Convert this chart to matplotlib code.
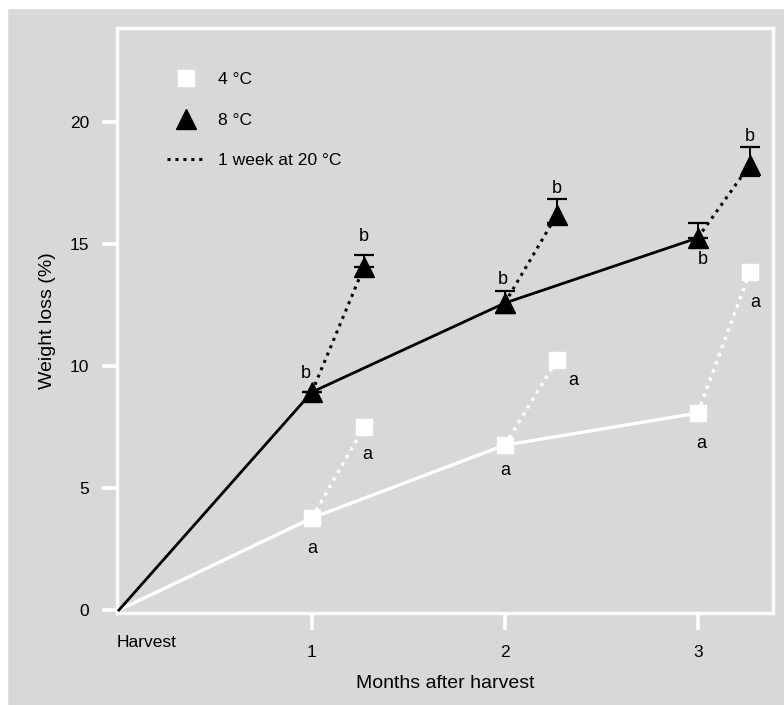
"""Weight loss during storage at 4 and 8 degC, plus 1 week at 20 degC."""
import matplotlib; matplotlib.use("Agg")
import matplotlib.pyplot as plt
from matplotlib.lines import Line2D
from matplotlib.patches import Rectangle

plt.rcParams["font.family"] = ["Liberation Sans", "DejaVu Sans"]

# storage months and the extra "1 week at 20 C" points
months = [0, 1, 2, 3]
months_wk = [1.27, 2.27, 3.27]

loss_4 = [0, 3.77, 6.76, 8.07]
loss_4_wk = [7.5, 10.25, 13.85]
let_4 = ["a", "a", "a"]
let_4_wk = ["a", "a", "a"]

loss_8 = [0, 8.93, 12.58, 15.25]
err_8_lo = [0, 0, 0.4, 0]
err_8_hi = [0, 0, 0.5, 0.6]
loss_8_wk = [14.06, 16.2, 18.24]
err_8_wk_lo = [0, 0.35, 0.45]
err_8_wk_hi = [0.5, 0.65, 0.75]
let_8 = ["b", "b", "b"]
let_8_wk = ["b", "b", "b"]

BG = "#d8d8d8"
fig = plt.figure(figsize=(7.84, 7.05), dpi=100, facecolor=BG)
ax = fig.add_axes([117/784, 1-613/705, (773-117)/784, (613-28)/705])
ax.set_facecolor(BG)
# thin white scan border at top/left
fig.patches.append(Rectangle((0, 1-8/705), 1, 8/705, transform=fig.transFigure, color="white", zorder=0))
fig.patches.append(Rectangle((0, 0), 7/784, 1, transform=fig.transFigure, color="white", zorder=0))

# 4 C: white
ax.plot(months, loss_4, color="white", lw=2.4, zorder=2)
for i, xw in enumerate(months_wk):
    ax.plot([months[i+1], xw], [loss_4[i+1], loss_4_wk[i]], color="white", lw=2.4, ls=(0, (1, 1.6)), zorder=2)
ax.plot(months[1:], loss_4[1:], ls="none", marker="s", ms=12, mfc="white", mec="white", zorder=3)
ax.plot(months_wk, loss_4_wk, ls="none", marker="s", ms=12, mfc="white", mec="white", zorder=3)

# 8 C: black
ax.plot(months, loss_8, color="black", lw=2.0, zorder=4)
for i, xw in enumerate(months_wk):
    ax.plot([months[i+1], xw], [loss_8[i+1], loss_8_wk[i]], color="black", lw=2.2, ls=(0, (1, 1.6)), zorder=4)
ax.errorbar(months[1:], loss_8[1:], yerr=[err_8_lo[1:], err_8_hi[1:]], fmt="none",
            ecolor="black", elinewidth=1.4, capsize=7, capthick=1.6, zorder=5)
ax.errorbar(months_wk, loss_8_wk, yerr=[err_8_wk_lo, err_8_wk_hi], fmt="none",
            ecolor="black", elinewidth=1.4, capsize=7, capthick=1.6, zorder=5)
ax.plot(months[1:], loss_8[1:], ls="none", marker="^", ms=14, mfc="black", mec="black", zorder=6)
ax.plot(months_wk, loss_8_wk, ls="none", marker="^", ms=14, mfc="black", mec="black", zorder=6)

# significance letters (offsets in pixels)
off_8 = [(-6, 19), (-2, 24), (5, -22)]
off_8_wk = [(0, 30), (0, 26), (0, 28)]
off_4 = [(0, -30), (0, -25), (3, -30)]
off_4_wk = [(3, -27), (16, -21), (5, -30)]
groups = [(months[1:], loss_8[1:], let_8, off_8), (months_wk, loss_8_wk, let_8_wk, off_8_wk),
          (months[1:], loss_4[1:], let_4, off_4), (months_wk, loss_4_wk, let_4_wk, off_4_wk)]
for xs, ys, labs, offs in groups:
    for x, y, t, o in zip(xs, ys, labs, offs):
        ax.annotate(t, (x, y), xytext=o, textcoords="offset pixels", ha="center", va="center",
                    fontsize=13, zorder=7)

ax.set_xlim(-0.01, 3.39)
ax.set_ylim(-0.12, 23.85)
ax.set_xticks([1, 2, 3])
ax.set_yticks([0, 5, 10, 15, 20])
for s in ax.spines.values():
    s.set_color("white"); s.set_linewidth(2.4)
ax.tick_params(axis="x", colors="white", length=12, width=2.6, pad=11, labelcolor="black", labelsize=12.5)
ax.tick_params(axis="y", colors="white", length=11, width=2.6, pad=9, labelcolor="black", labelsize=12.5)
ax.text(0.0, -0.05, "Harvest", transform=ax.transAxes, ha="left", va="center", fontsize=12.5)
ax.set_xlabel("Months after harvest", fontsize=14, labelpad=11)
ax.set_ylabel("Weight loss (%)", fontsize=14)
ax.yaxis.set_label_coords(-0.093, 0.5)

handles = [Line2D([], [], ls="none", marker="s", ms=12, mfc="white", mec="white"),
           Line2D([], [], ls="none", marker="^", ms=14, mfc="black", mec="black"),
           Line2D([], [], color="black", lw=2.2, ls=(0, (1, 1.6)))]
ax.legend(handles, ["4 °C", "8 °C", "1 week at 20 °C"], loc="upper left", bbox_to_anchor=(0.052, 0.952),
          frameon=False, fontsize=12.6, labelspacing=1.45, handlelength=2.2, handletextpad=0.7)

fig.savefig("out.png", dpi=100, facecolor=BG)
